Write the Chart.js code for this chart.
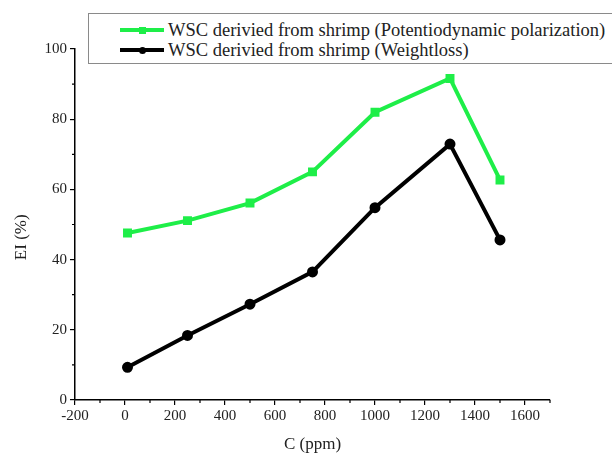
<!DOCTYPE html>
<html>
<head>
<meta charset="utf-8">
<script src="https://cdn.jsdelivr.net/npm/chart.js@4.4.1/dist/chart.umd.min.js"></script>
<style>
  html, body { margin: 0; padding: 0; background: #fff; overflow: hidden; }
  #wrap { position: relative; width: 612px; height: 455px; }
  #legend {
    position: absolute; left: 88px; top: 13px; width: 540px; height: 49px;
    border: 1px solid #8a8a8a; background: #fff;
    font-family: "Liberation Serif", Tinos, "Times New Roman", "DejaVu Serif", serif; font-size: 18.5px; color: #222;
  }
  .row { position: absolute; left: 31px; height: 20px; line-height: 20px; white-space: nowrap; }
  .sample { position: absolute; left: 0; top: 8px; width: 44px; height: 4px; }
  .mark { position: absolute; left: 19px; top: -1.5px; width: 7px; height: 7px; }
  .row span.txt { position: absolute; left: 48px; top: 0; }
</style>
</head>
<body>
<div id="wrap">
  <canvas id="grafico" width="612" height="455"></canvas>
  <div id="legend">
    <div class="row" style="top:6px">
      <div class="sample" style="background:#1eee48"><div class="mark" style="background:#1eee48"></div></div>
      <span class="txt">WSC derivied from shrimp (Potentiodynamic polarization)</span>
    </div>
    <div class="row" style="top:26px">
      <div class="sample" style="background:#000"><div class="mark" style="background:#000;border-radius:50%"></div></div>
      <span class="txt">WSC derivied from shrimp (Weightloss)</span>
    </div>
  </div>
</div>
<script>
  // valores
  const concentracao = [10, 250, 500, 750, 1000, 1300, 1500];
  const eiPolarizacao = [47.6, 51.1, 56.1, 65.0, 82.0, 91.6, 62.7];
  const eiPerdaMassa = [9.3, 18.4, 27.3, 36.5, 54.8, 72.9, 45.6];
  const ticksX = [-200, 0, 200, 400, 600, 800, 1000, 1200, 1400, 1600];
  const ticksY = [0, 20, 40, 60, 80, 100];
  const minorX = [-100, 100, 300, 500, 700, 900, 1100, 1300, 1500, 1700];
  const minorY = [10, 30, 50, 70, 90];

  const familia = "'Liberation Serif', Tinos, 'Times New Roman', 'DejaVu Serif', serif";
  const fonte = { family: familia, size: 15 };

  // tracinhos menores nos eixos
  const ticksMenores = {
    id: "ticksMenores",
    afterDraw(chart) {
      const ctx = chart.ctx;
      const sx = chart.scales.x, sy = chart.scales.y;
      ctx.save();
      ctx.strokeStyle = "#000";
      ctx.lineWidth = 1.2;
      ctx.beginPath();
      minorX.forEach(v => {
        const px = sx.getPixelForValue(v);
        ctx.moveTo(px, sy.bottom);
        ctx.lineTo(px, sy.bottom + 3);
      });
      minorY.forEach(v => {
        const py = sy.getPixelForValue(v);
        ctx.moveTo(sx.left, py);
        ctx.lineTo(sx.left - 3, py);
      });
      ctx.stroke();
      ctx.restore();
    }
  };

  new Chart(document.getElementById("grafico").getContext("2d"), {
    type: "line",
    data: {
      datasets: [{
        label: "WSC derivied from shrimp (Potentiodynamic polarization)",
        data: concentracao.map((c, i) => ({ x: c, y: eiPolarizacao[i] })),
        borderColor: "#1eee48",
        backgroundColor: "#1eee48",
        borderWidth: 4,
        pointStyle: "rect",
        pointRadius: 3.5,
        tension: 0
      }, {
        label: "WSC derivied from shrimp (Weightloss)",
        data: concentracao.map((c, i) => ({ x: c, y: eiPerdaMassa[i] })),
        borderColor: "#000",
        backgroundColor: "#000",
        borderWidth: 4,
        pointStyle: "circle",
        pointRadius: 3.5,
        tension: 0
      }]
    },
    options: {
      responsive: false,
      animation: false,
      layout: { padding: { top: 49, right: 62, left: 0, bottom: 0 } },
      plugins: { legend: { display: false }, tooltip: { enabled: false } },
      scales: {
        x: {
          type: "linear",
          min: -200,
          max: 1700,
          afterBuildTicks: s => { s.ticks = ticksX.map(v => ({ value: v })); },
          afterFit: s => { s.height = 55; },
          grid: { drawOnChartArea: false, color: "#000", lineWidth: 1.2, tickLength: 5 },
          border: { color: "#000", width: 1.5 },
          ticks: { color: "#222", font: fonte, padding: 2, maxRotation: 0, callback: v => String(v) },
          title: { display: true, text: "C (ppm)", color: "#222", font: { family: familia, size: 17 }, padding: { top: 4, bottom: 0 } }
        },
        y: {
          min: 0,
          max: 100,
          afterBuildTicks: s => { s.ticks = ticksY.map(v => ({ value: v })); },
          afterFit: s => { s.width = 75; },
          grid: { drawOnChartArea: false, color: "#000", lineWidth: 1.2, tickLength: 5 },
          border: { color: "#000", width: 1.5 },
          ticks: { color: "#222", font: fonte, padding: 3, callback: v => String(v) },
          title: { display: true, text: "EI (%)      ", color: "#222", font: { family: familia, size: 17 }, padding: { top: 11, bottom: 0 } }
        }
      }
    },
    plugins: [ticksMenores]
  });
</script>
</body>
</html>
